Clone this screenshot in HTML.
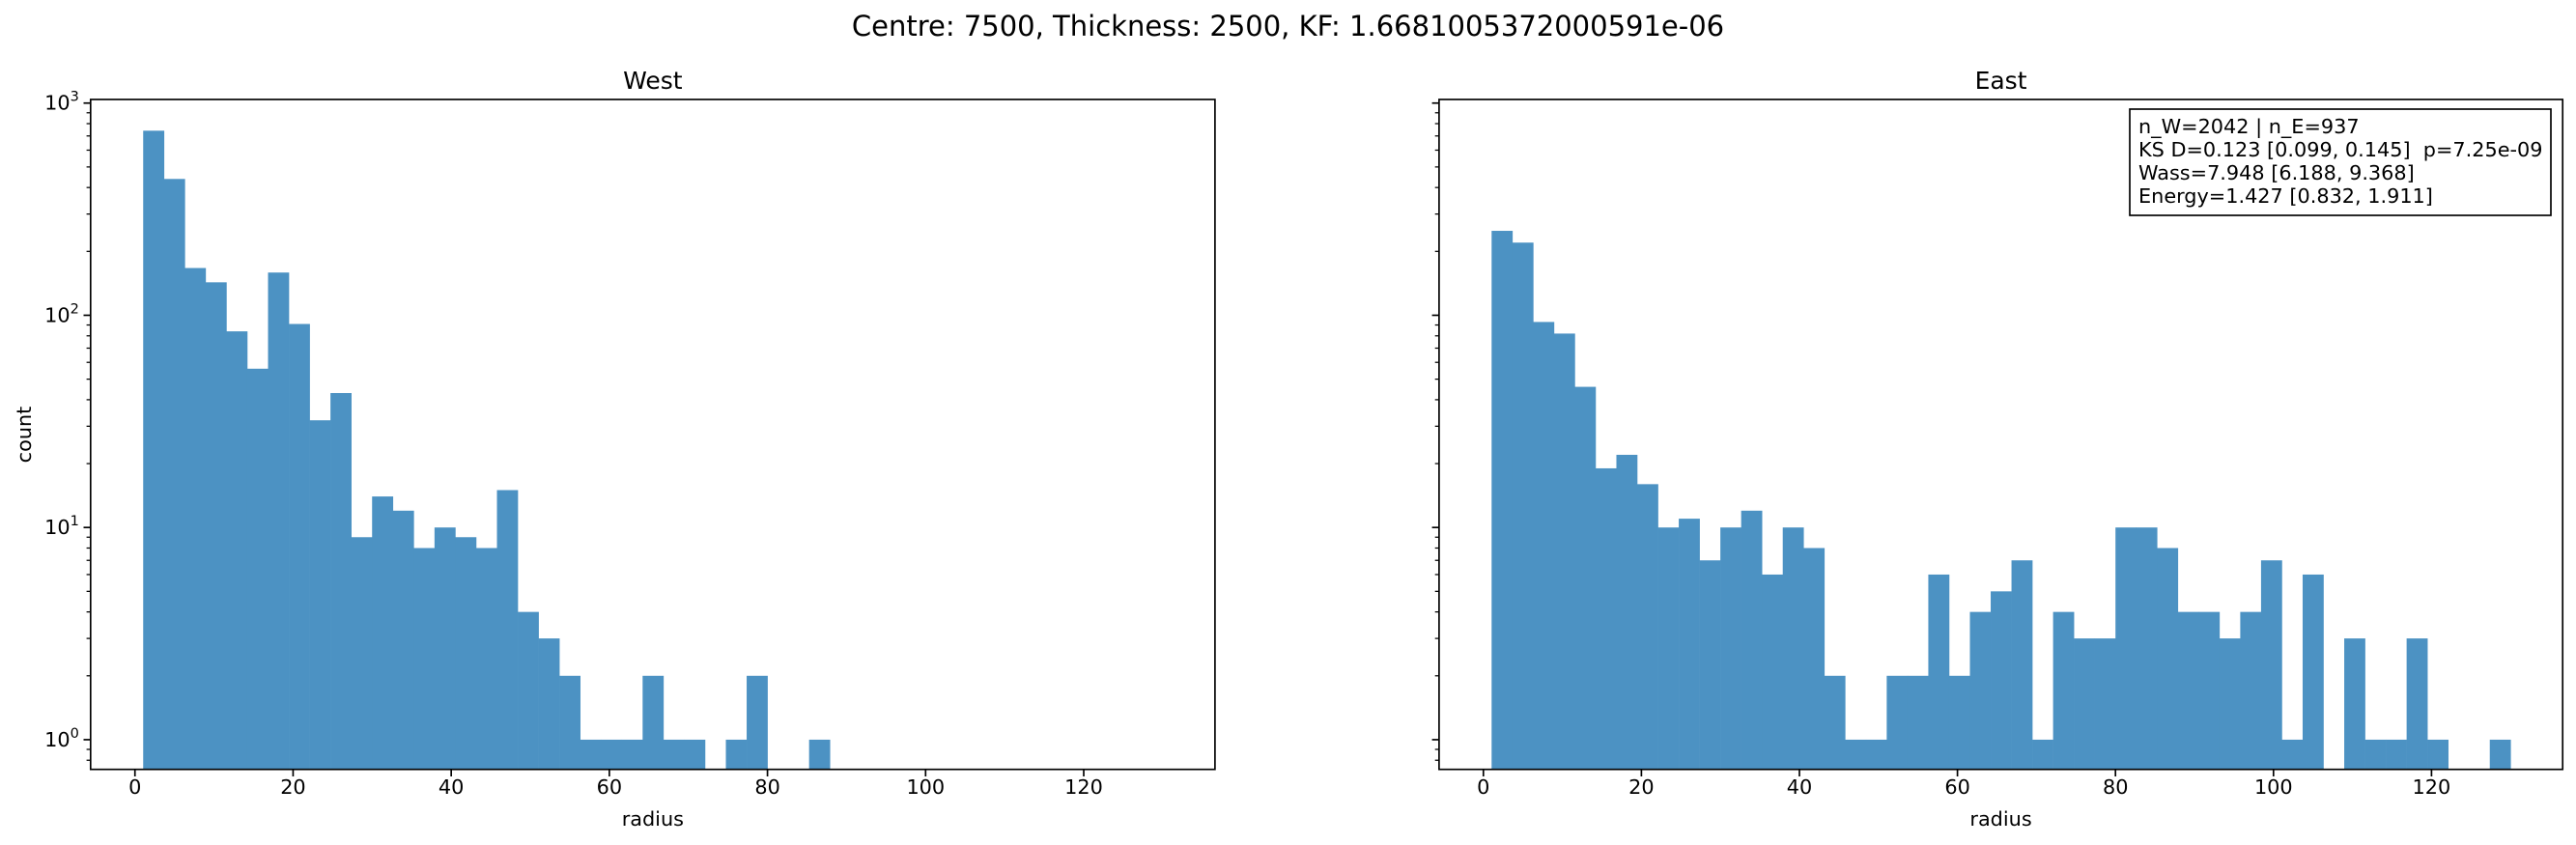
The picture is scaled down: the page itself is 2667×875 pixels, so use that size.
<!DOCTYPE html>
<html><head><meta charset="utf-8"><style>
html,body{margin:0;padding:0;background:#fff;}
svg{display:block;font-family:"DejaVu Sans","Liberation Sans",sans-serif;}
</style></head><body>
<svg id="fig" width="2667" height="875" viewBox="0 0 2667 875" xmlns="http://www.w3.org/2000/svg">
<text x="1333.5" y="37" font-size="29" text-anchor="middle">Centre: 7500, Thickness: 2500, KF: 1.6681005372000591e-06</text>
</svg>
<script>
const binStart = 1.04;
const binWidth = 2.632;
const westCounts = [741,439,167,143,84,56,159,91,32,43,9,14,12,8,10,9,8,15,4,3,2,1,1,1,2,1,1,0,1,2,0,0,1,0,0,0,0,0,0,0,0,0,0,0,0,0,0,0,0,0];
const eastCounts = [250,220,93,82,46,19,22,16,10,11,7,10,12,6,10,8,2,1,1,2,2,6,2,4,5,7,1,4,3,3,10,10,8,4,4,3,4,7,1,6,0,3,1,1,3,1,0,0,1,0];
const xTicks = [0,20,40,60,80,100,120];
const yTickExp = [0,1,2,3];

const svgEl = document.getElementById('fig');
const NS = 'http://www.w3.org/2000/svg';
function mk(tag, attrs, parent){const e=document.createElementNS(NS,tag);for(const k in attrs)e.setAttribute(k,attrs[k]);(parent||svgEl).appendChild(e);return e;}

const xmin=-5.61, xmax=136.6, lmin=-0.14, lmax=3.017;
const yTop=103, yBot=796.7;
function panel(x0,x1,counts,title,showY,key){
  const g=mk('g',{});
  
  
  const sx=v=>x0+(v-xmin)/(xmax-xmin)*(x1-x0);
  const sy=v=>yBot-(Math.log10(v)-lmin)/(lmax-lmin)*(yBot-yTop);
  counts.forEach((c,i)=>{
    if(c<=0) return;
    const a=sx(binStart+i*binWidth), b=sx(binStart+(i+1)*binWidth);
    const r=mk('rect',{x:a,y:sy(c),width:b-a+0.3,height:yBot-sy(c),fill:'#4c92c3'},g);
    
    
  });
  const fr=mk('rect',{x:x0,y:yTop,width:x1-x0,height:yBot-yTop,fill:'none',stroke:'#000','stroke-width':1.67},g);
  
  
  xTicks.forEach(t=>{
    const x=sx(t);
    mk('line',{x1:x,x2:x,y1:yBot,y2:yBot+7.3,stroke:'#000','stroke-width':1.67},g);
    const tl=mk('text',{x:x,y:822,'font-size':20.8,'text-anchor':'middle'},g);
    tl.textContent=t;
    
    
  });
  yTickExp.forEach(e=>{
    const y=sy(Math.pow(10,e));
    mk('line',{x1:x0-7.3,x2:x0,y1:y,y2:y,stroke:'#000','stroke-width':1.67},g);
    if(showY){
      const tl=mk('text',{x:x0-12,y:y+7,'font-size':20.8,'text-anchor':'end'},g);
      
      
      tl.textContent='10';
      const sp=mk('tspan',{dy:-9,'font-size':14.5},tl);
      sp.textContent=String(e);
    }
  });
  for(let e=-1;e<=3;e++){for(let m=2;m<=9;m++){
    const v=m*Math.pow(10,e);const lv=Math.log10(v);
    if(lv<lmin||lv>lmax) continue;
    const y=sy(v);
    mk('line',{x1:x0-4.2,x2:x0,y1:y,y2:y,stroke:'#000','stroke-width':1.25},g);
  }}
  const tt=mk('text',{x:(x0+x1)/2,y:92,'font-size':25,'text-anchor':'middle'},g);
  tt.textContent=title;
  
  
  const xl=mk('text',{x:(x0+x1)/2,y:855,'font-size':20.8,'text-anchor':'middle'},g);
  xl.textContent='radius';
  
  
  return g;
}
panel(93.8,1257.9,westCounts,'West',true,'west');
panel(1489.9,2653.2,eastCounts,'East',false,'east');

const yl=mk('text',{x:0,y:0,'font-size':20.8,'text-anchor':'middle',transform:'translate(32,450) rotate(-90)'});
yl.textContent='count';



const box=mk('g',{});


mk('rect',{x:2205,y:113,width:436,height:110,fill:'#fff',stroke:'#000','stroke-width':1.67},box);
const lines=['n_W=2042 | n_E=937','KS D=0.123 [0.099, 0.145]  p=7.25e-09','Wass=7.948 [6.188, 9.368]','Energy=1.427 [0.832, 1.911]'];
lines.forEach((s,i)=>{
  const t=mk('text',{x:2214,y:138+i*24,'font-size':20.8,style:'white-space:pre'},box);
  t.textContent=s;
  
  
});
</script>
</body></html>
